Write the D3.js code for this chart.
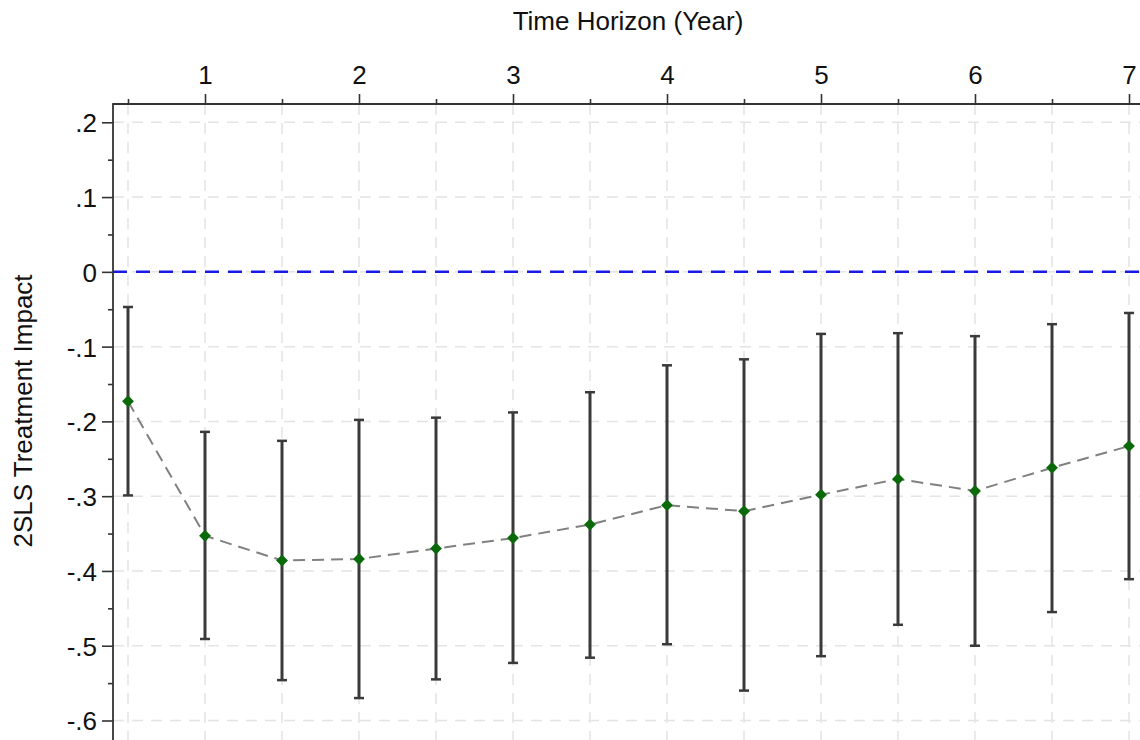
<!DOCTYPE html>
<html>
<head>
<meta charset="utf-8">
<script src="https://cdn.jsdelivr.net/npm/d3@7"></script>
<style>
  body { margin: 0; background: #fff; }
  svg { display: block; font-family: "Liberation Sans", Arial, sans-serif; }
</style>
</head>
<body>
<div id="wrapper"></div>
<script>
// data
const horizons = [0.5, 1, 1.5, 2, 2.5, 3, 3.5, 4, 4.5, 5, 5.5, 6, 6.5, 7];
const estimates = [-0.173, -0.353, -0.386, -0.384, -0.370, -0.356, -0.338, -0.312, -0.320, -0.298, -0.277, -0.293, -0.262, -0.233];
const lowerCI = [-0.299, -0.491, -0.546, -0.570, -0.545, -0.523, -0.516, -0.498, -0.560, -0.514, -0.472, -0.500, -0.455, -0.411];
const upperCI = [-0.047, -0.214, -0.226, -0.198, -0.195, -0.188, -0.161, -0.125, -0.117, -0.083, -0.082, -0.086, -0.070, -0.055];
const xMajorTicks = [1, 2, 3, 4, 5, 6, 7];
const xMinorTicks = [0.5, 1.5, 2.5, 3.5, 4.5, 5.5, 6.5];
const yMajorTicks = [0.2, 0.1, 0, -0.1, -0.2, -0.3, -0.4, -0.5, -0.6];
const yMinorTicks = [0.15, 0.05, -0.05, -0.15, -0.25, -0.35, -0.45, -0.55];

const dataset = horizons.map((h, i) => ({
  h, est: estimates[i], lo: lowerCI[i], hi: upperCI[i]
}));

const dimensions = {
  width: 1140,
  height: 740,
  plot: { left: 113, top: 104, right: 1140, bottom: 740 },
};

const svg = d3.select("#wrapper")
  .append("svg")
  .attr("width", dimensions.width)
  .attr("height", dimensions.height);

// scales
const xScale = d3.scaleLinear().domain([0.5, 7]).range([128, 1129]);
const yScale = d3.scaleLinear().domain([0.2, -0.6]).range([122.3, 720.5]);

// stata style labels: .2, 0, -.1
const fmt = (d) => d === 0 ? "0" : d3.format(".1f")(d).replace("\u2212", "-").replace("0.", ".");

// grid lines
const grid = svg.append("g");
grid.selectAll(".hgrid")
  .data(yMajorTicks)
  .join("line")
  .attr("x1", dimensions.plot.left)
  .attr("x2", dimensions.plot.right)
  .attr("y1", (d) => yScale(d))
  .attr("y2", (d) => yScale(d))
  .attr("stroke", "#e4e4e4")
  .attr("stroke-width", 1.5)
  .attr("stroke-dasharray", "11,8");
grid.selectAll(".vgrid")
  .data(xMajorTicks.concat(xMinorTicks))
  .join("line")
  .attr("x1", (d) => xScale(d))
  .attr("x2", (d) => xScale(d))
  .attr("y1", dimensions.plot.top)
  .attr("y2", dimensions.plot.bottom)
  .attr("stroke", "#e4e4e4")
  .attr("stroke-width", 1.5)
  .attr("stroke-dasharray", "11,8");

// zero reference line
svg.append("line")
  .attr("x1", dimensions.plot.left)
  .attr("x2", dimensions.plot.right)
  .attr("y1", yScale(0))
  .attr("y2", yScale(0))
  .attr("stroke", "#1a1ae6")
  .attr("stroke-width", 2.5)
  .attr("stroke-dasharray", "14,9");

// axes
const xAxis = svg.append("g")
  .attr("transform", `translate(0,${dimensions.plot.top})`)
  .call(d3.axisTop(xScale).tickValues(xMajorTicks).tickSize(10).tickSizeOuter(0).tickPadding(10).tickFormat(d3.format("d")));
const xMinor = svg.append("g")
  .attr("transform", `translate(0,${dimensions.plot.top})`)
  .call(d3.axisTop(xScale).tickValues(xMinorTicks).tickSize(5).tickFormat(""));

const yAxis = svg.append("g")
  .attr("transform", `translate(${dimensions.plot.left},0)`)
  .call(d3.axisLeft(yScale).tickValues(yMajorTicks).tickSize(11).tickSizeOuter(0).tickPadding(5).tickFormat(fmt));
const yMinor = svg.append("g")
  .attr("transform", `translate(${dimensions.plot.left},0)`)
  .call(d3.axisLeft(yScale).tickValues(yMinorTicks).tickSize(5).tickFormat(""));

[xAxis, xMinor, yAxis, yMinor].forEach((g) => {
  g.select(".domain").remove();
  g.selectAll(".tick line").attr("stroke", "#333").attr("stroke-width", 1.6);
  g.selectAll(".tick text").attr("fill", "#111").style("font-size", "26px");
});
yAxis.selectAll(".tick text").attr("dy", "0.36em");

svg.append("line")
  .attr("x1", dimensions.plot.left - 0.8)
  .attr("x2", dimensions.plot.right)
  .attr("y1", dimensions.plot.top)
  .attr("y2", dimensions.plot.top)
  .attr("stroke", "#333")
  .attr("stroke-width", 1.8);
svg.append("line")
  .attr("x1", dimensions.plot.left)
  .attr("x2", dimensions.plot.left)
  .attr("y1", dimensions.plot.top)
  .attr("y2", dimensions.plot.bottom)
  .attr("stroke", "#333")
  .attr("stroke-width", 1.8);

// axis titles
svg.append("text")
  .attr("x", 628)
  .attr("y", 30)
  .attr("text-anchor", "middle")
  .attr("fill", "#111")
  .style("font-size", "26px")
  .text("Time Horizon (Year)");
svg.append("text")
  .attr("transform", "translate(32,411) rotate(-90)")
  .attr("text-anchor", "middle")
  .attr("fill", "#111")
  .style("font-size", "26px")
  .text("2SLS Treatment Impact");

// confidence intervals
const bars = svg.append("g");
bars.selectAll(".ci")
  .data(dataset)
  .join("line")
  .attr("x1", (d) => xScale(d.h))
  .attr("x2", (d) => xScale(d.h))
  .attr("y1", (d) => yScale(d.hi))
  .attr("y2", (d) => yScale(d.lo))
  .attr("stroke", "#3a3a3a")
  .attr("stroke-width", 3);
["hi", "lo"].forEach((k) => {
  bars.selectAll(".cap-" + k)
    .data(dataset)
    .join("line")
    .attr("x1", (d) => xScale(d.h) - 5)
    .attr("x2", (d) => xScale(d.h) + 5)
    .attr("y1", (d) => yScale(d[k]))
    .attr("y2", (d) => yScale(d[k]))
    .attr("stroke", "#3a3a3a")
    .attr("stroke-width", 2.5);
});

// connecting line
const lineGenerator = d3.line()
  .x((d) => xScale(d.h))
  .y((d) => yScale(d.est));
svg.append("path")
  .attr("d", lineGenerator(dataset))
  .attr("fill", "none")
  .attr("stroke", "#808080")
  .attr("stroke-width", 2)
  .attr("stroke-dasharray", "12,7");

// point estimates
svg.append("g")
  .selectAll("path")
  .data(dataset)
  .join("path")
  .attr("transform", (d) => `translate(${xScale(d.h)},${yScale(d.est)})`)
  .attr("d", d3.symbol(d3.symbolDiamond2, 90))
  .attr("fill", "#0a6a0a");
</script>
</body>
</html>
